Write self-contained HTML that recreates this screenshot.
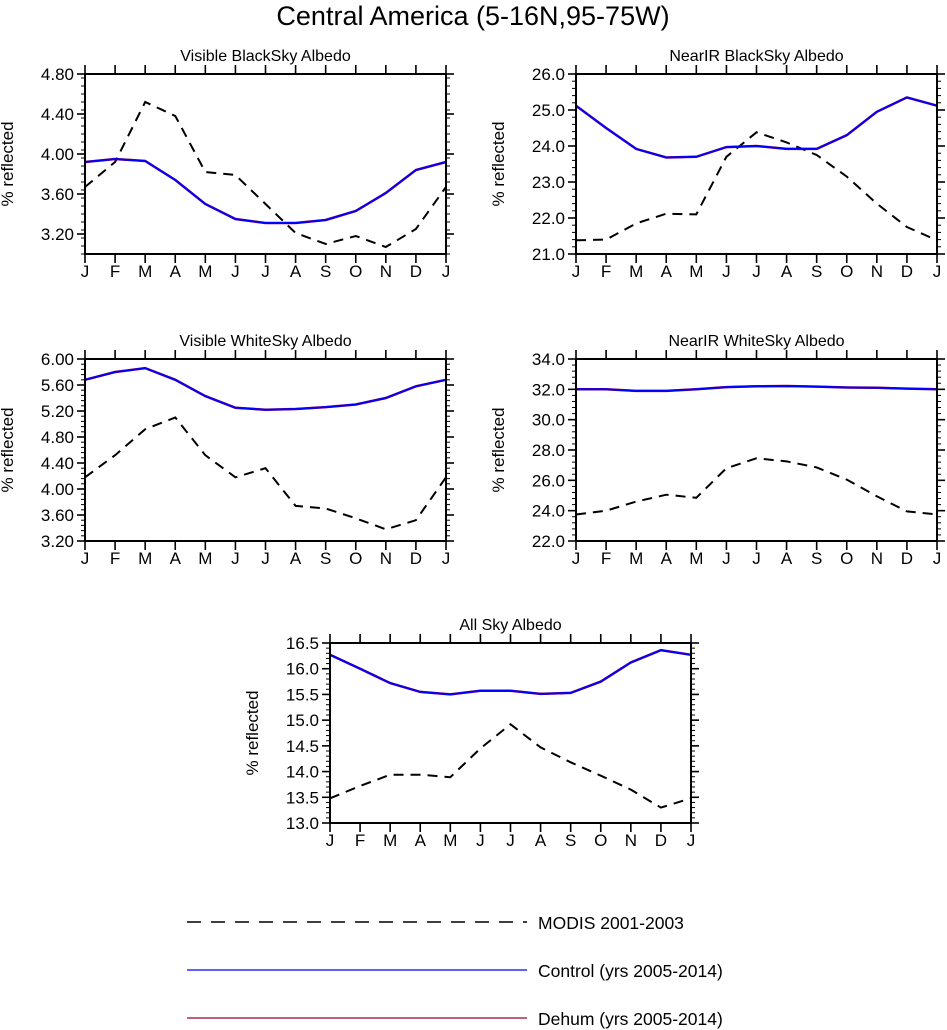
<!DOCTYPE html>
<html><head><meta charset="utf-8"><style>
body{margin:0;background:#fff;}
svg{display:block;font-family:"Liberation Sans",sans-serif;}
</style></head><body>
<svg id="chart" width="947" height="1030" xmlns="http://www.w3.org/2000/svg">
<text x="473" y="25" font-size="27" text-anchor="middle">Central America (5-16N,95-75W)</text>
<g>
<line x1="187" y1="922" x2="527" y2="922" stroke="#000" stroke-width="1.5" stroke-dasharray="14,10"/>
<text x="538" y="929" font-size="17.5">MODIS 2001-2003</text>
<line x1="187" y1="970" x2="527" y2="970" stroke="#0000ff" stroke-width="1.2"/>
<text x="538" y="977" font-size="17.5">Control (yrs 2005-2014)</text>
<line x1="187" y1="1018" x2="527" y2="1018" stroke="#a0002a" stroke-width="1.2"/>
<text x="538" y="1025" font-size="17.5">Dehum (yrs 2005-2014)</text>
</g>
</svg>
<script>
const months = ["J","F","M","A","M","J","J","A","S","O","N","D","J"];
const p1Modis = [3.67,3.92,4.52,4.38,3.82,3.79,3.50,3.21,3.10,3.18,3.07,3.25,3.67];
const p1Control = [3.92,3.95,3.93,3.74,3.50,3.35,3.31,3.31,3.34,3.43,3.61,3.84,3.92];
const p1Dehum = [3.92,3.95,3.93,3.74,3.50,3.35,3.31,3.31,3.34,3.43,3.61,3.84,3.92];
const p1Ticks = ["3.20","3.60","4.00","4.40","4.80"];
const p2Modis = [21.38,21.4,21.85,22.12,22.1,23.7,24.38,24.1,23.75,23.15,22.4,21.75,21.38];
const p2Control = [25.12,24.5,23.92,23.68,23.7,23.97,24.0,23.92,23.92,24.3,24.95,25.35,25.12];
const p2Dehum = [25.12,24.5,23.92,23.68,23.7,23.97,24.0,23.92,23.92,24.3,24.95,25.35,25.12];
const p2Ticks = ["21.0","22.0","23.0","24.0","25.0","26.0"];
const p3Modis = [4.18,4.52,4.92,5.10,4.52,4.18,4.32,3.74,3.70,3.55,3.38,3.52,4.18];
const p3Control = [5.68,5.80,5.86,5.68,5.43,5.25,5.22,5.23,5.26,5.30,5.40,5.58,5.68];
const p3Dehum = [5.68,5.80,5.86,5.68,5.43,5.25,5.22,5.23,5.26,5.30,5.40,5.58,5.68];
const p3Ticks = ["3.20","3.60","4.00","4.40","4.80","5.20","5.60","6.00"];
const p4Modis = [23.75,24.0,24.6,25.05,24.85,26.8,27.45,27.25,26.85,26.05,24.95,23.95,23.75];
const p4Control = [32.0,32.0,31.9,31.9,32.0,32.15,32.2,32.22,32.18,32.12,32.1,32.05,32.0];
const p4Dehum = [32.0,32.0,31.9,31.9,32.0,32.15,32.2,32.22,32.18,32.12,32.1,32.05,32.0];
const p4Ticks = ["22.0","24.0","26.0","28.0","30.0","32.0","34.0"];
const p5Modis = [13.48,13.72,13.94,13.94,13.89,14.45,14.92,14.47,14.18,13.92,13.65,13.30,13.48];
const p5Control = [16.27,16.0,15.72,15.55,15.5,15.57,15.57,15.51,15.53,15.75,16.12,16.36,16.27];
const p5Dehum = [16.27,16.0,15.72,15.55,15.5,15.57,15.57,15.51,15.53,15.75,16.12,16.36,16.27];
const p5Ticks = ["13.0","13.5","14.0","14.5","15.0","15.5","16.0","16.5"];

const NS="http://www.w3.org/2000/svg";
const svg=document.getElementById('chart');
function mk(tag,attrs,parent){const e=document.createElementNS(NS,tag);for(const k in attrs)e.setAttribute(k,attrs[k]);(parent||svg).appendChild(e);return e;}

function panel(name,title,x0,y0,w,h,ymin,ymax,ticks,minorStep,modis,control,dehum){
  const g=mk('g',{});
  
  
  const xs=i=>x0+i*w/(months.length-1);
  const ys=v=>y0+h-(v-ymin)/(ymax-ymin)*h;
  const t=mk('text',{x:x0+w/2,y:y0-13,'font-size':16,'text-anchor':'middle'},g);t.textContent=title;
  
  
  for(let v=ymin;v<=ymax+1e-9;v+=minorStep){
    const y=ys(v);
    mk('line',{x1:x0-4,x2:x0,y1:y,y2:y,stroke:'#000','stroke-width':1},g);
    mk('line',{x1:x0+w,x2:x0+w+4,y1:y,y2:y,stroke:'#000','stroke-width':1},g);
  }
  ticks.forEach(s=>{
    const v=parseFloat(s);const y=ys(v);
    mk('line',{x1:x0-8,x2:x0,y1:y,y2:y,stroke:'#000','stroke-width':1.6},g);
    mk('line',{x1:x0+w,x2:x0+w+8,y1:y,y2:y,stroke:'#000','stroke-width':1.6},g);
    const tl=mk('text',{x:x0-11,y:y+6,'font-size':17,'text-anchor':'end'},g);tl.textContent=s;
    
    
  });
  months.forEach((m,i)=>{
    const x=xs(i);
    mk('line',{x1:x,x2:x,y1:y0,y2:y0-9,stroke:'#000','stroke-width':1.6},g);
    mk('line',{x1:x,x2:x,y1:y0+h,y2:y0+h+9,stroke:'#000','stroke-width':1.6},g);
    const tl=mk('text',{x:x,y:y0+h+23,'font-size':17,'text-anchor':'middle'},g);tl.textContent=m;
    
    
  });
  const yl=mk('text',{x:0,y:0,'font-size':17,'text-anchor':'middle',transform:`translate(${x0-72},${y0+h/2}) rotate(-90)`},g);yl.textContent='% reflected';
  
  
  const pts=a=>a.map((v,i)=>xs(i).toFixed(1)+','+ys(v).toFixed(1)).join(' ');
  const l1=mk('polyline',{points:pts(modis),fill:'none',stroke:'#000','stroke-width':2,'stroke-dasharray':'10,7'},g);
  
  
  const l2=mk('polyline',{points:pts(dehum),fill:'none',stroke:'#a0002a','stroke-width':2.5},g);
  
  
  const l3=mk('polyline',{points:pts(control),fill:'none',stroke:'#0000ff','stroke-width':2},g);
  
  
  mk('rect',{x:x0,y:y0,width:w,height:h,fill:'none',stroke:'#000','stroke-width':2},g);
}
panel('panel-visible-blacksky','Visible BlackSky Albedo',85,74,361,180,3.0,4.8,p1Ticks,0.08,p1Modis,p1Control,p1Dehum);
panel('panel-nearir-blacksky','NearIR BlackSky Albedo',576,74,361,180,21,26,p2Ticks,0.2,p2Modis,p2Control,p2Dehum);
panel('panel-visible-whitesky','Visible WhiteSky Albedo',85,359,361,182,3.2,6.0,p3Ticks,0.08,p3Modis,p3Control,p3Dehum);
panel('panel-nearir-whitesky','NearIR WhiteSky Albedo',576,359,361,182,22,34,p4Ticks,0.4,p4Modis,p4Control,p4Dehum);
panel('panel-allsky','All Sky Albedo',330,643,361,180,13,16.5,p5Ticks,0.1,p5Modis,p5Control,p5Dehum);
</script>
</body></html>
